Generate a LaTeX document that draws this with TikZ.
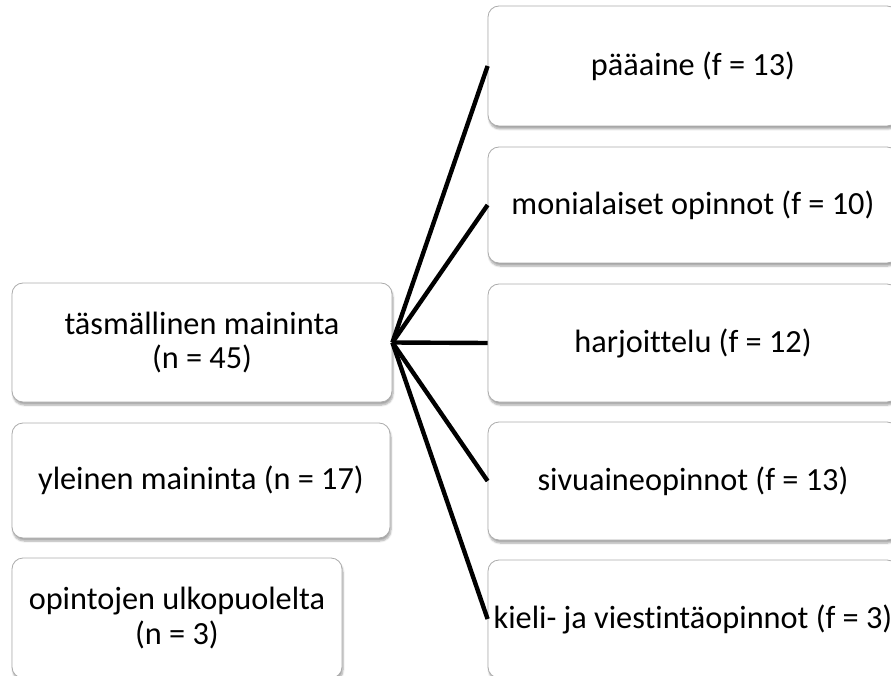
\documentclass[tikz,border=0pt]{standalone}
\usepackage{fontspec}
\setmainfont{Carlito}[Ligatures=NoCommon]
\usetikzlibrary{shadows.blur}
\begin{document}
\begin{tikzpicture}[x=1pt,y=-1pt,
  box/.style={draw=gray!65, line width=0.8pt, fill=white, rounded corners=11pt,
    blur shadow={shadow xshift=1pt, shadow yshift=-3pt, shadow blur steps=6, shadow opacity=35},
    align=center, inner sep=0pt, font=\fontsize{32.3}{34.5}\selectfont},
  link/.style={line width=4.4pt, black}]
\useasboundingbox (0,0) rectangle (891,676);
\clip (0,0) rectangle (891,676);
\node[box, minimum width=380pt, minimum height=119pt] (t) at (202,342.5) {täsmällinen maininta\\(n = 45)};
\node[box, minimum width=378pt, minimum height=115pt] (y) at (201,480.5) {yleinen maininta (n = 17)};
\node[box, minimum width=330pt, minimum height=120pt] (o) at (177,618) {opintojen ulkopuolelta\\(n = 3)};
\node[box, minimum width=410pt, minimum height=120pt] (r1) at (693,66) {pääaine (f = 13)};
\node[box, minimum width=410pt, minimum height=116pt] (r2) at (693,205) {monialaiset opinnot (f = 10)};
\node[box, minimum width=410pt, minimum height=118pt] (r3) at (693,343) {harjoittelu (f = 12)};
\node[box, minimum width=410pt, minimum height=118pt] (r4) at (693,481) {sivuaineopinnot (f = 13)};
\node[box, minimum width=410pt, minimum height=118pt] (r5) at (693,619) {kieli- ja viestintäopinnot (f = 3)};
\foreach \r in {r1,r2,r3,r4,r5}{
  \draw[link] (t.east) -- (\r.west);
}
\end{tikzpicture}
\end{document}
